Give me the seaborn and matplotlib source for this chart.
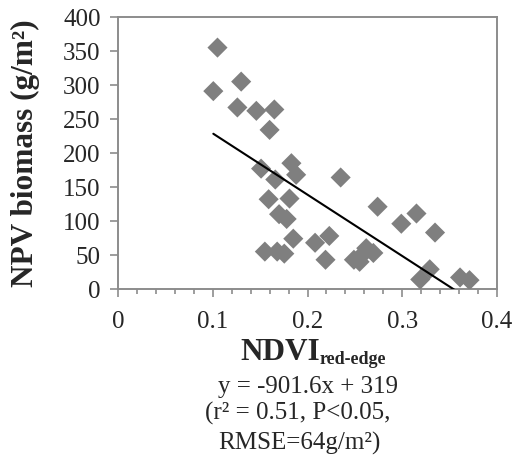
import numpy as np
import pandas as pd
import matplotlib
matplotlib.use("Agg")
import matplotlib.pyplot as plt
import seaborn as sns

# ---- data ----
ndvi = [0.105, 0.1006, 0.130, 0.126, 0.146, 0.165, 0.160, 0.151, 0.166,
        0.183, 0.188, 0.159, 0.181, 0.170, 0.178, 0.155, 0.168, 0.1755,
        0.185, 0.208, 0.223, 0.219, 0.235, 0.249, 0.255, 0.259, 0.262,
        0.2695, 0.274, 0.299, 0.315, 0.3346, 0.329, 0.319, 0.361, 0.371]
biomass = [355, 291, 305, 267, 262, 264, 234, 177, 161,
           185, 168, 132, 133, 110, 103, 55, 55, 52,
           74, 68, 78, 43, 164, 43, 40, 52, 60,
           53, 121, 96, 111, 83, 29, 14, 17, 13]
slope = -901.6
intercept = 319
x_ticks = [0, 0.1, 0.2, 0.3, 0.4]
x_tick_labels = ["0", "0.1", "0.2", "0.3", "0.4"]
y_ticks = [0, 50, 100, 150, 200, 250, 300, 350, 400]

df = pd.DataFrame({"ndvi": ndvi, "biomass": biomass})
fit_x = np.array([min(ndvi), max(ndvi)])
fit = pd.DataFrame({"ndvi": fit_x, "biomass": slope * fit_x + intercept})

sns.set_style("white")
plt.rcParams["font.family"] = ["Liberation Serif", "DejaVu Serif"]

W, H = 516, 461
fig = plt.figure(figsize=(W / 100, H / 100), dpi=100)
ax = fig.add_axes([118 / W, 1 - 289 / H, (497 - 118) / W, (289 - 17) / H])

sns.scatterplot(data=df, x="ndvi", y="biomass", marker="D", s=105,
                color="#7f7f7f", edgecolor="none", linewidth=0, ax=ax, zorder=3)
sns.lineplot(data=fit, x="ndvi", y="biomass", color="black", linewidth=1.5,
             ax=ax, zorder=4)

ax.set_xlim(0, 0.4)
ax.set_ylim(0, 400)
ax.set_xticks(x_ticks)
ax.set_xticklabels(x_tick_labels)
ax.set_xticks(np.arange(0, 0.4001, 0.02), minor=True)
ax.set_yticks(y_ticks)

spine_c = "#8c8c8c"
for s in ax.spines.values():
    s.set_visible(True)
    s.set_color(spine_c)
    s.set_linewidth(1.4)

ax.tick_params(axis="x", which="major", direction="out", length=5.5, width=1.2,
               color=spine_c, labelsize=18, pad=10, bottom=True)
ax.tick_params(axis="x", which="minor", direction="out", length=3.8, width=1.2,
               color=spine_c, bottom=True)
ax.tick_params(axis="y", which="major", direction="out", length=5.5, width=1.2,
               color=spine_c, labelsize=18, pad=7, left=True)

ax.set_xlabel("")
ax.set_ylabel("NPV biomass (g/m²)", fontsize=22.5, fontweight="bold")
ax.yaxis.set_label_coords(-0.206, 0.498)

# x-axis label with subscript
fig.text(240 / W, 1 - 360 / H, "NDVI", fontsize=22.5, fontweight="bold",
         ha="left", va="baseline")
fig.text(320 / W, 1 - 364 / H, "red-edge", fontsize=13, fontweight="bold",
         ha="left", va="baseline")

# equation text
fig.text(218 / W, 1 - 393 / H, "y = -901.6x + 319", fontsize=18,
         ha="left", va="baseline")
fig.text(205 / W, 1 - 420 / H, "(r² = 0.51, P<0.05,", fontsize=18,
         ha="left", va="baseline")
fig.text(218 / W, 1 - 450 / H, "RMSE=64g/m²)", fontsize=18,
         ha="left", va="baseline")

fig.savefig("out.png", dpi=100)
